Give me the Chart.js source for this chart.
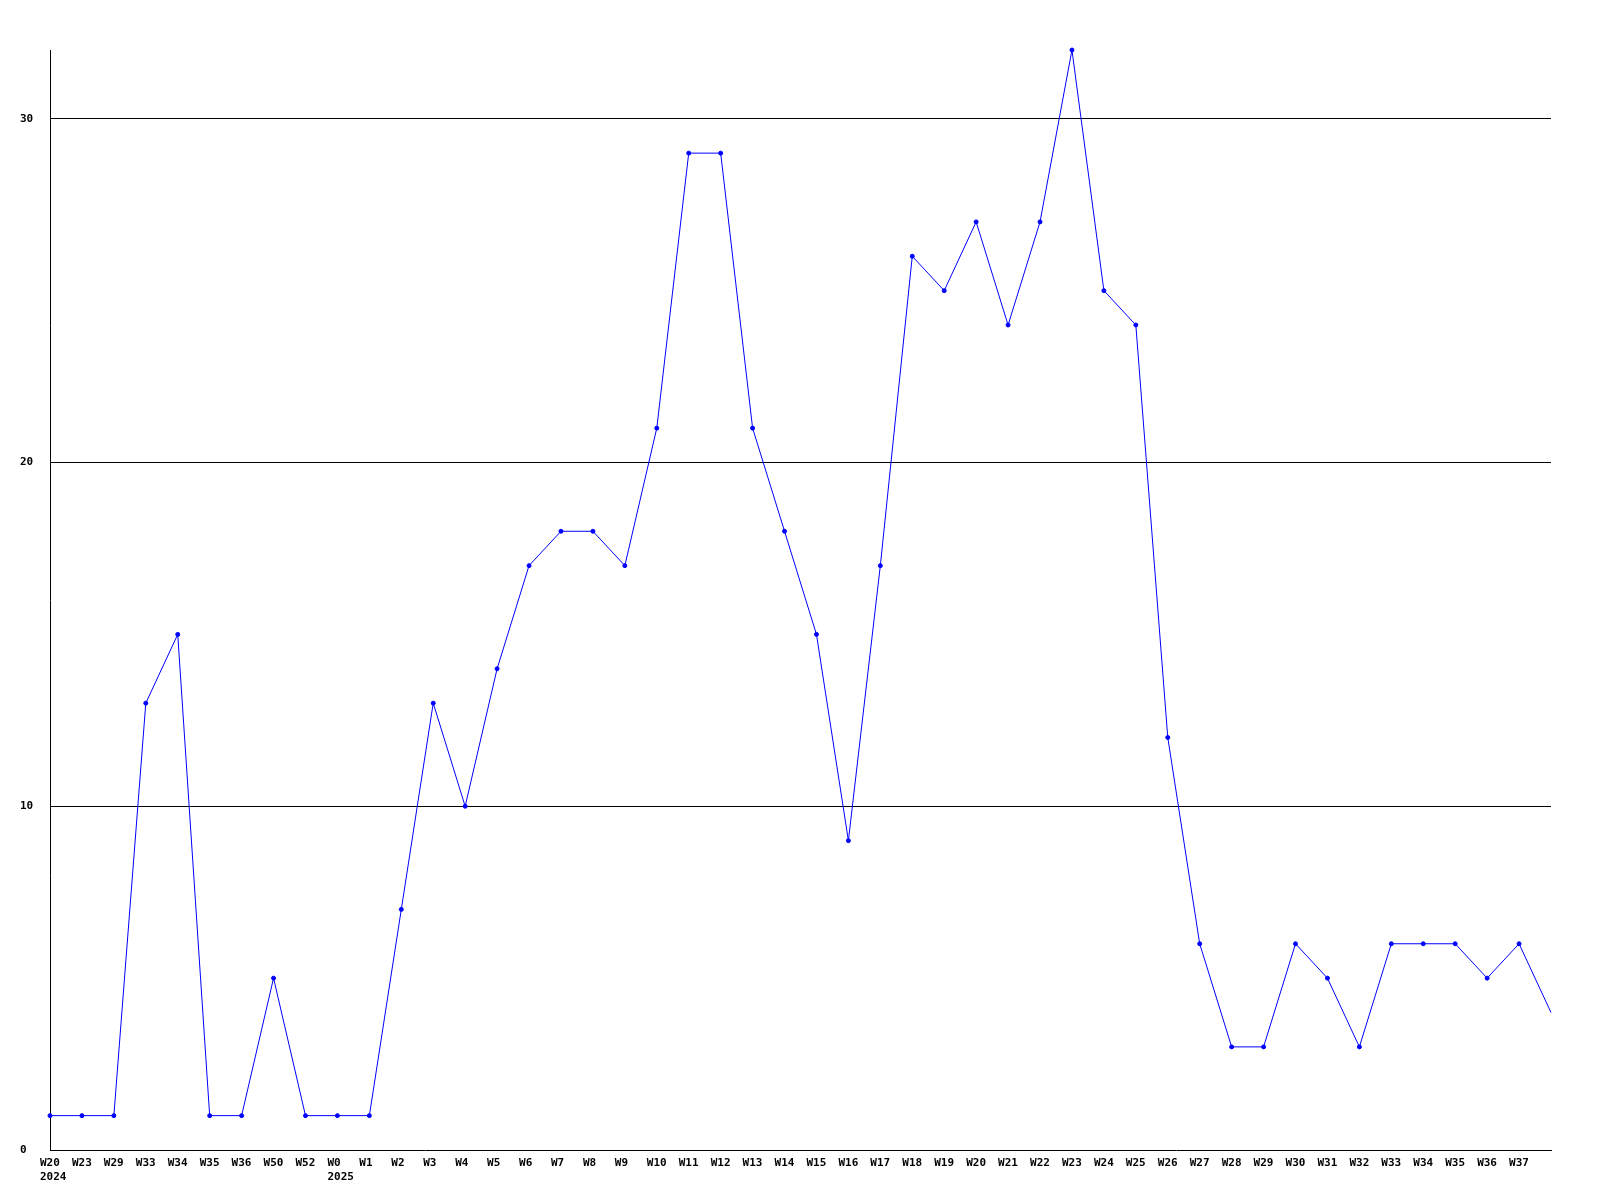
<!DOCTYPE html>
<html>
<head>
<meta charset="utf-8">
<script src="https://cdn.jsdelivr.net/npm/chart.js@4/dist/chart.umd.min.js"></script>
<style>
html,body{margin:0;padding:0;background:#fff;}
#wrap{width:1600px;height:1200px;position:relative;}
</style>
</head>
<body>
<div id="wrap"><canvas id="c" width="1600" height="1200"></canvas></div>
<script>
const weeks = ['W20','W23','W29','W33','W34','W35','W36','W50','W52','W0','W1','W2','W3','W4','W5','W6','W7','W8','W9','W10','W11','W12','W13','W14','W15','W16','W17','W18','W19','W20','W21','W22','W23','W24','W25','W26','W27','W28','W29','W30','W31','W32','W33','W34','W35','W36','W37',''];
const years = {0:'2024', 9:'2025'};
const values = [1,1,1,13,15,1,1,5,1,1,1,7,13,10,14,17,18,18,17,21,29,29,21,18,15,9,17,26,25,27,24,27,32,25,24,12,6,3,3,6,5,3,6,6,6,5,6,4];
const yTicks = [0,10,20,30];
const yMax = 32;

const labels = weeks.map((w,i) => years[i] ? [w, years[i]] : w);
const radii = weeks.map(w => w === '' ? 0 : 2);

new Chart(document.getElementById('c'), {
  type: 'line',
  data: {
    labels: labels,
    datasets: [{
      data: values,
      borderColor: '#0000ff',
      backgroundColor: '#0000ff',
      borderWidth: 1,
      pointRadius: radii,
      pointHoverRadius: radii,
      pointStyle: 'circle',
      tension: 0,
      fill: false,
      clip: 6
    }]
  },
  options: {
    responsive: false,
    animation: false,
    events: [],
    layout: { padding: { left: 20, top: 50, right: 49, bottom: 0 } },
    plugins: { legend: { display: false }, tooltip: { enabled: false } },
    scales: {
      x: {
        offset: false,
        grid: { display: false, drawTicks: false },
        border: { display: true, color: '#000', width: 1 },
        ticks: {
          autoSkip: false,
          maxRotation: 0,
          minRotation: 0,
          align: 'start',
          labelOffset: -10,
          padding: 6,
          color: '#000',
          font: { family: 'DejaVu Sans Mono', size: 11, weight: 'bold', lineHeight: 1.3 }
        },
        afterFit: s => { s.height = 50; }
      },
      y: {
        min: 0,
        max: yMax,
        afterBuildTicks: s => { s.ticks = yTicks.map(v => ({ value: v })); },
        grid: {
          drawTicks: false,
          color: ctx => (ctx.tick && ctx.tick.value === 0) ? 'rgba(0,0,0,0)' : '#000',
          lineWidth: 1
        },
        border: { display: true, color: '#000', width: 1 },
        ticks: {
          crossAlign: 'far',
          padding: 0,
          color: '#000',
          font: { family: 'DejaVu Sans Mono', size: 11, weight: 'bold' }
        },
        afterFit: s => { s.width = 30; }
      }
    }
  }
});
</script>
</body>
</html>
